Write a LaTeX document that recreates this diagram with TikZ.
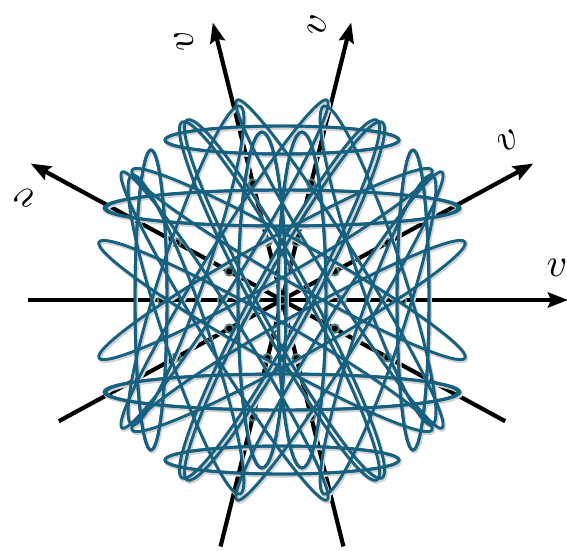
\documentclass[tikz,border=0pt]{standalone}
\usetikzlibrary{arrows.meta}
\definecolor{loopc}{RGB}{22,96,128}
\definecolor{ringc}{RGB}{80,128,128}
\newcommand\drawloops[1]{%
 \foreach \xa/\ya/\xb/\yb/\bb in {-117/160/117/160/14, -176/92/178/92/18, -131/150/-131/-150/16,
   -20/168/-20/-168/24, -42/194/-150/-125/22, -183/58/150/-130/20, -100/178/95/-180/26,
   -160/128/45/-200/18}{%
  \foreach \sx/\sy in {1/1,-1/1,1/-1,-1/-1}{%
   \pgfmathsetmacro\cx{\sx*(\xa+\xb)/2}%
   \pgfmathsetmacro\cy{\sy*(\ya+\yb)/2}%
   \pgfmathsetmacro\ang{atan2(\sy*(\yb-\ya),\sx*(\xb-\xa))}%
   \pgfmathsetmacro\len{veclen(\xb-\xa,\yb-\ya)/2}%
   \draw[#1,rotate around={\ang:(\cx,\cy)}] (\cx,\cy) ellipse [x radius=\len,y radius=\bb];
  }}}
\begin{document}
\begin{tikzpicture}[x=1pt,y=1pt,
 axisline/.style={line width=4.2pt,-{Stealth[length=20pt,width=15pt,inset=3pt]}},
 loopline/.style={draw=loopc,line width=2.9pt},
 shadowline/.style={draw=black!18,line width=3.4pt},
 dotmark/.style={circle,fill=black,draw=ringc,line width=1.9pt,minimum size=8.5pt,inner sep=0pt},
 vlabel/.style={inner sep=0pt}]
\useasboundingbox (-282,-250) rectangle (285,300);
\coordinate (O) at (0,0);
% axes
\foreach \a/\n in {0/a,28.5/b,76/c,104/d,151.5/e}{
  \coordinate (\n-tip) at (\a:286);
  \coordinate (\n-back) at (\a+180:254);
  \draw[axisline] (\n-back) -- (\n-tip);
  \node[vlabel,rotate=\a] (\n-lab) at (\a+6.6:277) {\scalebox{4}{$v$}};
}
% dots
\node[dotmark] (o-dot) at (O) {};
\foreach \a/\n in {0/a,28.5/b,76/c,104/d,151.5/e}{
  \foreach \r/\m in {-120/1,-60/2,60/3,120/4}{
    \node[dotmark] (\n-dot\m) at (\a:\r) {};
  }
}
% loops
\begin{scope}[shift={(1.2,-1.8)}]\drawloops{shadowline}\end{scope}
\drawloops{loopline}
\end{tikzpicture}
\end{document}
